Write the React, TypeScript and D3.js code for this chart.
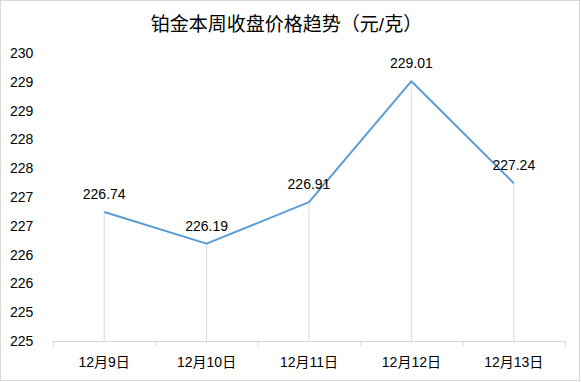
import React from "react";
import * as d3 from "d3";

const categories = ["12月9日", "12月10日", "12月11日", "12月12日", "12月13日"];
const prices = [226.74, 226.19, 226.91, 229.01, 227.24];
const yTicks = [224.5, 225, 225.5, 226, 226.5, 227, 227.5, 228, 228.5, 229, 229.5];
const title = "铂金本周收盘价格趋势（元/克）";

const W = 581;
const H = 382;
const FONT = "'Liberation Sans', 'Noto Sans CJK SC', sans-serif";

function fmt(v: number) {
  return String(Math.floor(v + 0.5));
}

export default function App() {
  const left = 53;
  const right = 565;
  const top = 53;
  const bottom = 341;
  const x = d3.scaleBand<string>().domain(categories).range([left, right]).padding(0);
  const y = d3.scaleLinear().domain([224.5, 229.5]).range([bottom, top]);
  const cx = (c: string) => (x(c) as number) + x.bandwidth() / 2;
  const line = d3
    .line<number>()
    .x((_, i) => cx(categories[i]))
    .y((d) => y(d));
  const boundaries = categories.map((c) => x(c) as number).concat([right]);

  return (
    <svg
      width={W}
      height={H}
      style={{ position: "absolute", left: 0, top: 0, display: "block" }}
      fontFamily={FONT}
    >
      <rect x={0.5} y={0.5} width={W - 2} height={H - 2} fill="#fff" stroke="#d9d9d9" />
      <text x={W / 2 - 4} y={24} dy="0.35em" textAnchor="middle" fontSize={19} fill="#000">
        {title}
      </text>
      {yTicks.map((t) => (
        <text key={t} x={10} y={y(t)} dy="0.35em" fontSize={14} fill="#000">
          {fmt(t)}
        </text>
      ))}
      {prices.map((v, i) => (
        <line
          key={"d" + i}
          x1={cx(categories[i])}
          x2={cx(categories[i])}
          y1={y(v)}
          y2={bottom}
          stroke="#d9d9d9"
          strokeWidth={1}
        />
      ))}
      <line x1={left} x2={right} y1={bottom + 0.5} y2={bottom + 0.5} stroke="#d9d9d9" />
      {boundaries.map((b, i) => (
        <line key={"t" + i} x1={b + 0.5} x2={b + 0.5} y1={bottom} y2={bottom + 5} stroke="#d9d9d9" />
      ))}
      {categories.map((c) => (
        <text key={c} x={cx(c)} y={362} dy="0.35em" textAnchor="middle" fontSize={14} fill="#000">
          {c}
        </text>
      ))}
      <path d={line(prices) || ""} fill="none" stroke="#5b9bd5" strokeWidth={2} strokeLinejoin="round" />
      {prices.map((v, i) => (
        <text
          key={"l" + i}
          x={cx(categories[i])}
          y={y(v) - 18}
          dy="0.35em"
          textAnchor="middle"
          fontSize={14}
          fill="#000"
        >
          {v.toFixed(2)}
        </text>
      ))}
    </svg>
  );
}
